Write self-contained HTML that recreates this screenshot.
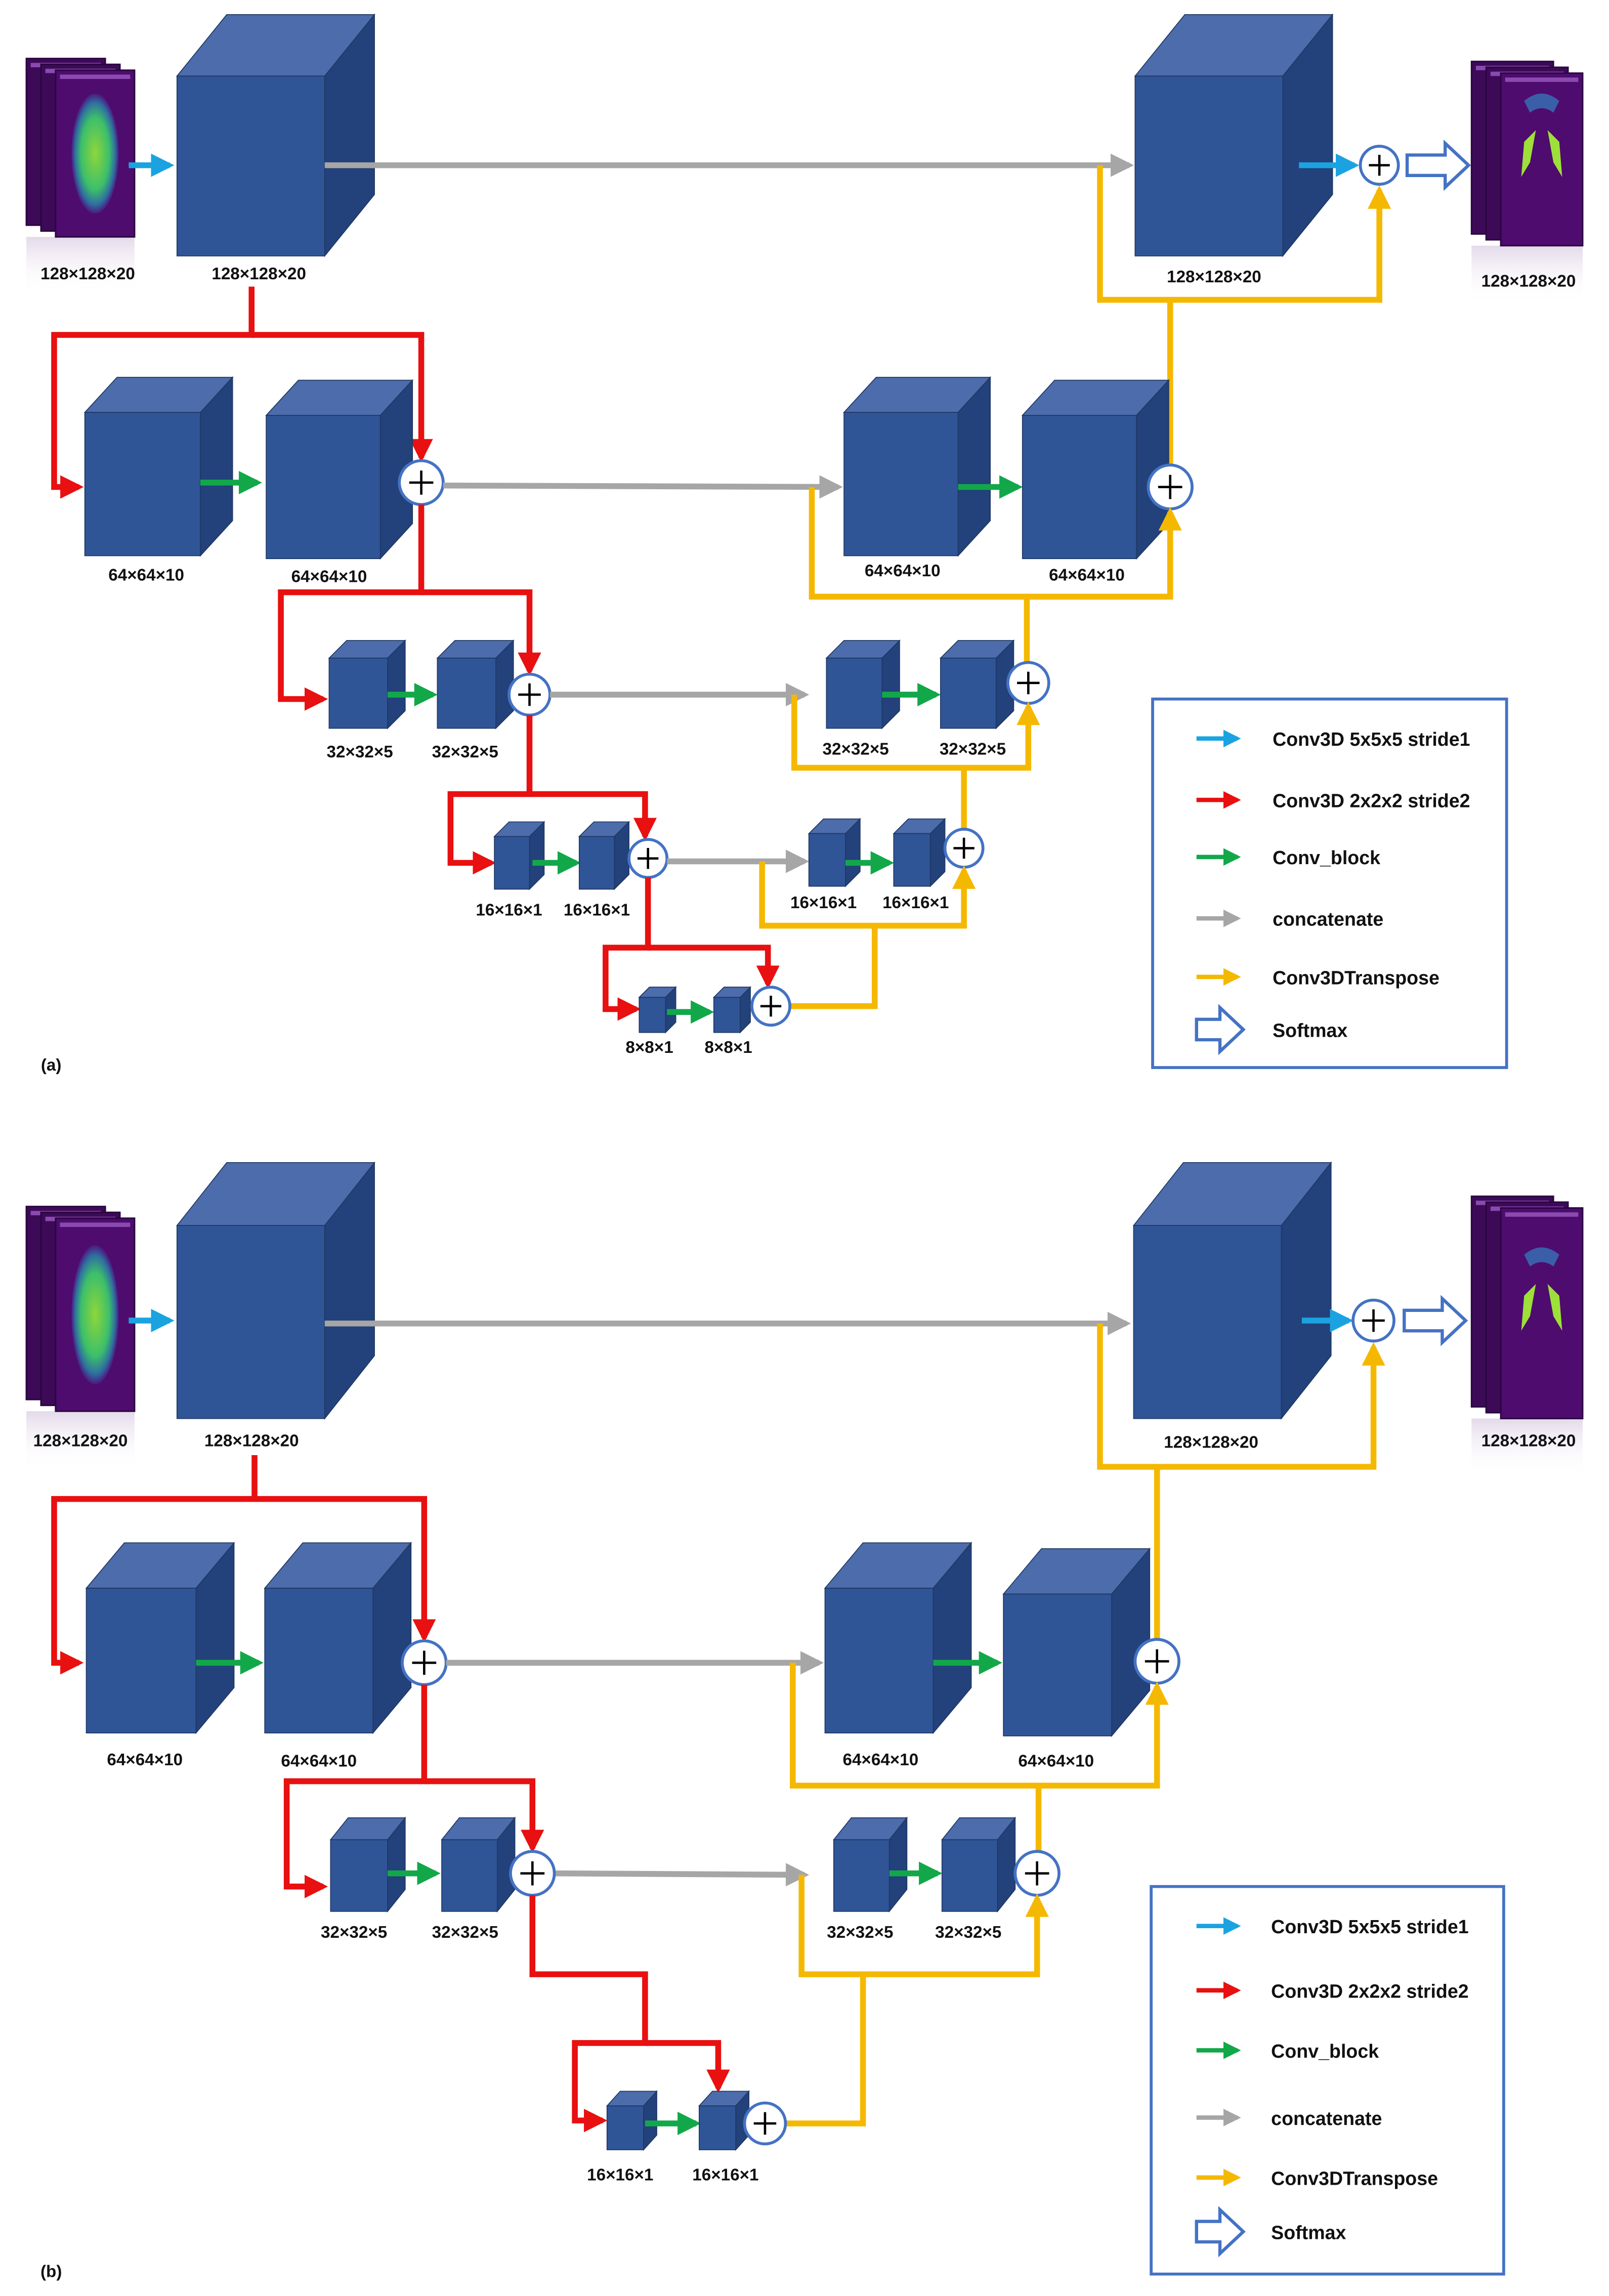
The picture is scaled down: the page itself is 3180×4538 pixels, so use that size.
<!DOCTYPE html>
<html><head><meta charset="utf-8"><style>
html,body{margin:0;padding:0;background:#fff}
svg{display:block}
text{font-family:"Liberation Sans",sans-serif;font-weight:bold;fill:#111}
</style></head><body>
<svg id="s" width="3180" height="4538" viewBox="0 0 1100 1570" preserveAspectRatio="none" xmlns="http://www.w3.org/2000/svg">
<defs>
<marker id="mr" markerWidth="4" markerHeight="4" refX="3.2" refY="2" orient="auto" markerUnits="strokeWidth"><path d="M0,0 L4,2 L0,4 z" fill="#e81010"/></marker>
<marker id="mg" markerWidth="4" markerHeight="4" refX="3.2" refY="2" orient="auto" markerUnits="strokeWidth"><path d="M0,0 L4,2 L0,4 z" fill="#12a84a"/></marker>
<marker id="ma" markerWidth="4" markerHeight="4" refX="3.2" refY="2" orient="auto" markerUnits="strokeWidth"><path d="M0,0 L4,2 L0,4 z" fill="#a6a6a6"/></marker>
<marker id="my" markerWidth="4" markerHeight="4" refX="3.2" refY="2" orient="auto" markerUnits="strokeWidth"><path d="M0,0 L4,2 L0,4 z" fill="#f5b800"/></marker>
<marker id="mb" markerWidth="4" markerHeight="4" refX="3.2" refY="2" orient="auto" markerUnits="strokeWidth"><path d="M0,0 L4,2 L0,4 z" fill="#1aa3e0"/></marker>
<radialGradient id="brain" cx="50%" cy="50%" r="50%"><stop offset="0" stop-color="#8fd63a"/><stop offset="0.6" stop-color="#3cbf6a"/><stop offset="0.85" stop-color="#2f6fa0"/><stop offset="1" stop-color="#4b1a80"/></radialGradient>
<linearGradient id="refl" x1="0" y1="0" x2="0" y2="1"><stop offset="0" stop-color="#c8b4d4" stop-opacity="0.5"/><stop offset="1" stop-color="#fff" stop-opacity="0"/></linearGradient>
</defs>
<g id="g"></g>
<g font-size="11.5" text-anchor="middle">
<text x="60" y="191">128×128×20</text>
<text x="177" y="191">128×128×20</text>
<text x="830" y="193">128×128×20</text>
<text x="1045" y="196">128×128×20</text>
<text x="100" y="397">64×64×10</text>
<text x="225" y="398">64×64×10</text>
<text x="617" y="394">64×64×10</text>
<text x="743" y="397">64×64×10</text>
<text x="246" y="518">32×32×5</text>
<text x="318" y="518">32×32×5</text>
<text x="585" y="516">32×32×5</text>
<text x="665" y="516">32×32×5</text>
<text x="348" y="626">16×16×1</text>
<text x="408" y="626">16×16×1</text>
<text x="563" y="621">16×16×1</text>
<text x="626" y="621">16×16×1</text>
<text x="444" y="720">8×8×1</text>
<text x="498" y="720">8×8×1</text>
<text x="35" y="732">(a)</text>
<text x="55" y="989">128×128×20</text>
<text x="172" y="989">128×128×20</text>
<text x="828" y="990">128×128×20</text>
<text x="1045" y="989">128×128×20</text>
<text x="99" y="1207">64×64×10</text>
<text x="218" y="1208">64×64×10</text>
<text x="602" y="1207">64×64×10</text>
<text x="722" y="1208">64×64×10</text>
<text x="242" y="1325">32×32×5</text>
<text x="318" y="1325">32×32×5</text>
<text x="588" y="1325">32×32×5</text>
<text x="662" y="1325">32×32×5</text>
<text x="424" y="1491">16×16×1</text>
<text x="496" y="1491">16×16×1</text>
<text x="35" y="1557">(b)</text>
</g>
<g font-size="13">
<text x="870" y="510">Conv3D 5x5x5 stride1</text>
<text x="870" y="552">Conv3D 2x2x2 stride2</text>
<text x="870" y="591">Conv_block</text>
<text x="870" y="633">concatenate</text>
<text x="870" y="673">Conv3DTranspose</text>
<text x="870" y="709">Softmax</text>
<text x="869" y="1322">Conv3D 5x5x5 stride1</text>
<text x="869" y="1366">Conv3D 2x2x2 stride2</text>
<text x="869" y="1407">Conv_block</text>
<text x="869" y="1453">concatenate</text>
<text x="869" y="1494">Conv3DTranspose</text>
<text x="869" y="1531">Softmax</text>
</g>
</svg>
<script>
var G=document.getElementById('g'),h='';
function cube(x,y,w,hh,dx,dy){
h+='<polygon points="'+[x,y,x+dx,y-dy,x+w+dx,y-dy,x+w,y]+'" fill="#4d6cab" stroke="#1f3864" stroke-width="0.6"/>';
h+='<polygon points="'+[x+w,y,x+w+dx,y-dy,x+w+dx,y+hh-dy,x+w,y+hh]+'" fill="#23417a" stroke="#1f3864" stroke-width="0.6"/>';
h+='<rect x="'+x+'" y="'+y+'" width="'+w+'" height="'+hh+'" fill="#2f5597" stroke="#1f3864" stroke-width="0.6"/>';}
var C={r:'#e81010',g:'#12a84a',a:'#a6a6a6',y:'#f5b800',b:'#1aa3e0'};
function ln(p,c,arr,w){h+='<polyline points="'+p+'" fill="none" stroke="'+C[c]+'" stroke-width="'+(w||4)+'" stroke-linejoin="miter"'+(arr?' marker-end="url(#m'+c+')"':'')+'/>';}
function plus(x,y,r){h+='<circle cx="'+x+'" cy="'+y+'" r="'+r+'" fill="#fff" stroke="#4472c4" stroke-width="2"/><path d="M'+(x-r*0.55)+','+y+'H'+(x+r*0.55)+'M'+x+','+(y-r*0.55)+'V'+(y+r*0.55)+'" stroke="#000" stroke-width="1.6"/>';}
function hollow(x,y,w){h+='<polygon points="'+[x,y-7,x+w-16,y-7,x+w-16,y-15,x+w,y,x+w-16,y+15,x+w-16,y+7,x,y+7]+'" fill="#fff" stroke="#4472c4" stroke-width="2.2"/>';}
function img(x,y,w,hh,out){
h+='<rect x="'+x+'" y="'+(y+hh)+'" width="'+w+'" height="40" fill="url(#refl)"/>';
for(var i=0;i<3;i++){var xx=x+i*10,yy=y+i*4;h+='<rect x="'+xx+'" y="'+yy+'" width="'+(w-20)+'" height="'+(hh-8)+'" fill="'+(i==2?'#4e0c6e':'#3d0a58')+'" stroke="#2a0640" stroke-width="1"/><rect x="'+(xx+3)+'" y="'+(yy+3)+'" width="'+(w-26)+'" height="3" fill="#8a4ab0"/>';}
var cx=x+20+(w-20)/2,cy=y+8+(hh-8)/2;
if(!out)h+='<ellipse cx="'+cx+'" cy="'+cy+'" rx="'+((w-20)*0.3)+'" ry="'+((hh-8)*0.36)+'" fill="url(#brain)"/>';
else{h+='<path d="M'+(cx-12)+','+(cy-12)+' l8,-8 l-4,22 l-6,10 z" fill="#9ee03a"/><path d="M'+(cx+12)+','+(cy-12)+' l-8,-8 l4,22 l6,10 z" fill="#9ee03a"/><path d="M'+(cx-12)+','+(cy-40)+' q12,-10 24,0 l-4,8 q-8,-6 -16,0 z" fill="#3a5fa8"/>';}}
img(18,40,74,122,0); img(1006,42,76,126,1);
cube(121,52,101,123,34,42); cube(776,52,101,123,34,42);
ln([88,113,116,113],'b',1); ln([222,113,772,113],'a',1);
ln([888,113,926,113],'b',1); plus(943,113,13); hollow(962,113,42);
ln([752,113,752,205,943,205,943,130],'y',1); ln([800,205,800,318],'y',0);
ln([172,196,172,229,37,229,37,333,54,333],'r',1); ln([172,229,288,229,288,313],'r',1);
cube(58,282,79,98,22,24); ln([137,330,176,330],'g',1); cube(182,284,78,98,22,24); plus(288,330,15);
ln([303,332,573,333],'a',1);
cube(577,282,78,98,22,24); ln([655,333,696,333],'g',1); cube(699,284,78,98,22,24); plus(800,333,15);
ln([555,333,555,408,800,408,800,350],'y',1); ln([702,408,702,453],'y',0);
ln([288,345,288,405,192,405,192,478,221,478],'r',1); ln([288,405,362,405,362,459],'r',1);
cube(225,450,40,48,12,12); ln([265,475,296,475],'g',1); cube(299,450,40,48,12,12); plus(362,475,14);
ln([376,475,550,475],'a',1);
cube(565,450,38,48,12,12); ln([603,475,640,475],'g',1); cube(643,450,38,48,12,12); plus(703,467,14);
ln([543,475,543,525,703,525,703,483],'y',1); ln([659,525,659,567],'y',0);
ln([362,489,362,543,308,543,308,590,336,590],'r',1); ln([362,543,441,543,441,572],'r',1);
cube(338,572,24,36,10,10); ln([364,590,394,590],'g',1); cube(396,572,24,36,10,10); plus(443,587,13);
ln([456,589,550,589],'a',1);
cube(553,570,25,36,10,10); ln([578,590,608,590],'g',1); cube(611,570,25,36,10,10); plus(659,580,13);
ln([521,589,521,633,659,633,659,595],'y',1); ln([540,688,598,688,598,633],'y',0);
ln([443,600,443,648,414,648,414,690,435,690],'r',1); ln([443,648,525,648,525,673],'r',1);
cube(437,682,18,24,7,7); ln([456,692,485,692],'g',1); cube(488,682,18,24,7,7); plus(527,688,13);
h+='<rect x="788" y="478" width="242" height="252" fill="none" stroke="#4472c4" stroke-width="2"/>';
ln([818,505,846,505],'b',1,3); ln([818,547,846,547],'r',1,3); ln([818,586,846,586],'g',1,3); ln([818,628,846,628],'a',1,3); ln([818,668,846,668],'y',1,3); hollow(818,704,32);
img(18,825,74,140,0); img(1006,818,76,152,1);
cube(121,838,101,132,34,43); cube(775,838,101,132,34,43);
ln([88,903,116,903],'b',1); ln([222,905,770,905],'a',1);
ln([890,903,922,903],'b',1); plus(939,903,14); hollow(960,903,42);
ln([752,905,752,1003,939,1003,939,921],'y',1); ln([791,1003,791,1121],'y',0);
ln([174,995,174,1025,37,1025,37,1137,54,1137],'r',1); ln([174,1025,290,1025,290,1120],'r',1);
cube(59,1086,75,99,26,31); ln([134,1137,177,1137],'g',1); cube(181,1086,74,99,26,31); plus(290,1137,15);
ln([305,1137,560,1137],'a',1);
cube(564,1086,74,99,26,31); ln([638,1137,682,1137],'g',1); cube(686,1090,74,97,26,31); plus(791,1136,15);
ln([542,1137,542,1221,791,1221,791,1153],'y',1); ln([710,1221,710,1266],'y',0);
ln([290,1152,290,1218,196,1218,196,1290,221,1290],'r',1); ln([290,1218,364,1218,364,1264],'r',1);
cube(226,1258,39,49,12,15); ln([265,1281,298,1281],'g',1); cube(302,1258,38,49,12,15); plus(364,1281,15);
ln([380,1281,550,1282],'a',1);
cube(570,1258,38,49,12,15); ln([608,1281,641,1281],'g',1); cube(644,1258,38,49,12,15); plus(709,1281,15);
ln([548,1282,548,1350,709,1350,709,1298],'y',1); ln([537,1452,590,1452,590,1350],'y',0);
ln([364,1296,364,1350,441,1350,441,1397,393,1397,393,1450,412,1450],'r',1); ln([441,1397,491,1397,491,1428],'r',1);
cube(415,1440,25,30,9,10); ln([441,1452,476,1452],'g',1); cube(478,1440,25,30,9,10); plus(523,1452,14);
h+='<rect x="787" y="1290" width="241" height="265" fill="none" stroke="#4472c4" stroke-width="2"/>';
ln([818,1317,846,1317],'b',1,3); ln([818,1361,846,1361],'r',1,3); ln([818,1402,846,1402],'g',1,3); ln([818,1448,846,1448],'a',1,3); ln([818,1489,846,1489],'y',1,3); hollow(818,1526,32);
G.innerHTML=h;
</script>
</body></html>
